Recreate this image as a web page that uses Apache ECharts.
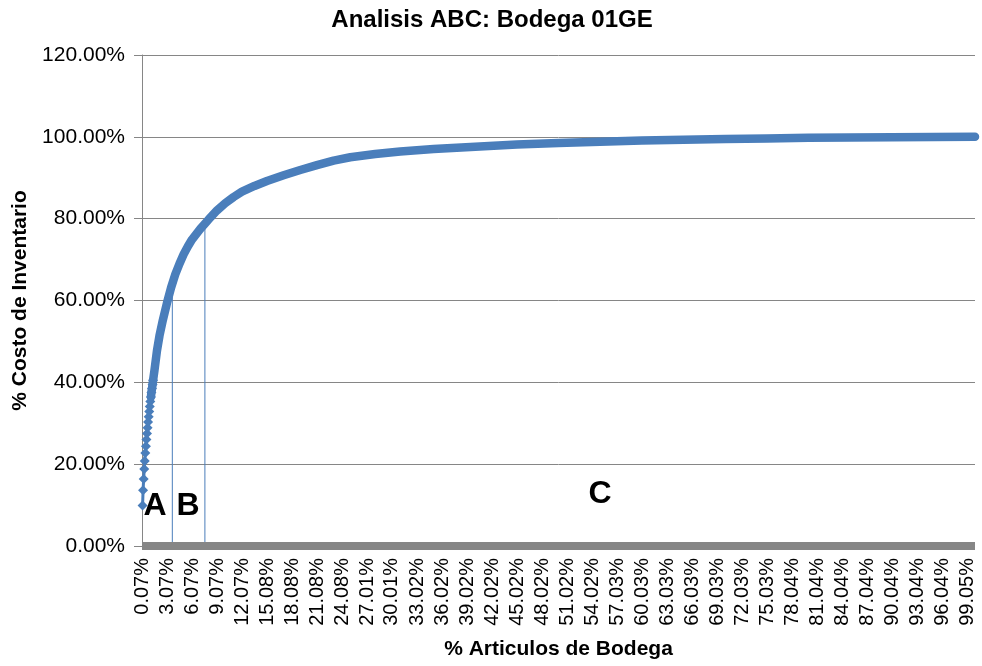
<!DOCTYPE html>
<html>
<head>
<meta charset="utf-8">
<script src="https://cdn.jsdelivr.net/npm/echarts@6/dist/echarts.min.js"></script>
<style>
html,body{margin:0;padding:0;background:#fff;}
#chart{width:982px;height:666px;}
</style>
</head>
<body>
<div id="chart"></div>
<script>
// % of articles (x) and cumulative % of inventory cost (y)
const itemPct = [0.07,0.13,0.20,0.27,0.33,0.40,0.47,0.53,0.60,0.67,0.73,0.80,0.87,0.93,1.00,1.07,1.13,1.20,1.27,1.33,
  1.5,1.8,2.1,2.5,3.0,3.5,4.0,4.5,5.0,5.5,
  6.0,7.0,8.0,9.0,10,11,12,13.5,15,17,
  19,21,23,25,28,31,35,40,45,50,
  55,60,65,70,75,80,85,90,95,100];
const costPct = [9.9,13.6,16.4,18.8,20.8,22.7,24.4,26.0,27.5,28.9,30.3,31.6,32.9,34.1,35.3,36.4,37.5,38.5,39.5,40.5,
  43.0,47.8,51.4,55.2,59.4,63.2,66.4,69.0,71.3,73.2,
  74.9,77.5,79.8,82.0,83.8,85.3,86.6,88.0,89.2,90.6,
  91.9,93.1,94.2,95.0,95.8,96.4,97.0,97.6,98.1,98.5,
  98.8,99.1,99.3,99.5,99.6,99.75,99.85,99.92,99.97,100];
// A/B and B/C cut-off lines
const cutX = [3.64, 7.55];
const cutY = [64.0, 79.0];
// category tick labels of the x axis
const xTickLabels = ['0.07%','3.07%','6.07%','9.07%','12.07%','15.08%','18.08%','21.08%','24.08%','27.01%','30.01%','33.02%',
  '36.02%','39.02%','42.02%','45.02%','48.02%','51.02%','54.02%','57.03%','60.03%','63.03%','66.03%','69.03%','72.03%',
  '75.03%','78.04%','81.04%','84.04%','87.04%','90.04%','93.04%','96.04%','99.05%'];
const zoneLabels = ['A','B','C'];

const FONT = '"Liberation Sans", Arial, sans-serif';
const BLUE = '#4A7EBB';
const GRAY = '#868686';

const pts = itemPct.map((x, i) => [x, costPct[i]]);
const xTickVals = xTickLabels.map(s => parseFloat(s));

const chart = echarts.init(document.getElementById('chart'), null, {renderer: 'canvas'});

const series = [];
cutX.forEach((x, i) => {
  series.push({
    type: 'line', data: [[x, 0], [x, cutY[i]]], symbol: 'none', silent: true,
    lineStyle: {color: BLUE, width: 1}, z: 1, animation: false
  });
});
series.push({
  type: 'line', data: pts.slice(15), symbol: 'none', smooth: false,
  lineStyle: {color: BLUE, width: 8.5, cap: 'round', join: 'round'}, z: 3, animation: false
});
series.push({
  type: 'line', data: pts.slice(0, 20), symbol: 'diamond', symbolSize: 10, showSymbol: true,
  itemStyle: {color: BLUE}, lineStyle: {color: BLUE, width: 3}, z: 4, animation: false
});

const option = {
  animation: false,
  backgroundColor: '#fff',
  title: {
    text: 'Analisis ABC: Bodega 01GE',
    left: 487, top: 3, textAlign: 'center',
    textStyle: {fontFamily: FONT, fontSize: 24, fontWeight: 'bold', color: '#000'}
  },
  grid: {left: 142, right: 7, top: 55, bottom: 120},
  xAxis: {
    type: 'value', min: 0, max: 100, z: 5,
    name: '% Articulos de Bodega', nameLocation: 'middle', nameGap: 93,
    nameTextStyle: {fontFamily: FONT, fontSize: 21, fontWeight: 'bold', color: '#000'},
    axisLine: {show: true, lineStyle: {color: GRAY, width: 8, cap: 'butt'}},
    axisTick: {show: false},
    splitLine: {show: false},
    axisLabel: {
      customValues: xTickVals, rotate: 90, margin: 12,
      fontFamily: FONT, fontSize: 20, color: '#000',
      formatter: v => { const i = xTickVals.indexOf(v); return i >= 0 ? xTickLabels[i] : ''; }
    }
  },
  yAxis: {
    type: 'value', min: 0, max: 120, interval: 20,
    name: '% Costo de Inventario', nameLocation: 'middle', nameGap: 106,
    nameTextStyle: {fontFamily: FONT, fontSize: 21, fontWeight: 'bold', color: '#000'},
    axisLine: {show: true, lineStyle: {color: GRAY, width: 1}},
    axisTick: {show: true, length: 8, lineStyle: {color: GRAY}},
    splitLine: {show: true, lineStyle: {color: GRAY, width: 1}},
    axisLabel: {
      margin: 17, fontFamily: FONT, fontSize: 21, color: '#000',
      formatter: v => v.toFixed(2) + '%'
    }
  },
  graphic: [
    {type: 'text', x: 155, y: 506, z: 10, style: {text: zoneLabels[0], font: 'bold 32px ' + FONT, fill: '#000', textAlign: 'center', textVerticalAlign: 'middle'}},
    {type: 'text', x: 188, y: 506, z: 10, style: {text: zoneLabels[1], font: 'bold 32px ' + FONT, fill: '#000', textAlign: 'center', textVerticalAlign: 'middle'}},
    {type: 'text', x: 600, y: 494, z: 10, style: {text: zoneLabels[2], font: 'bold 32px ' + FONT, fill: '#000', textAlign: 'center', textVerticalAlign: 'middle'}}
  ],
  series: series
};
chart.setOption(option);
</script>
</body>
</html>
